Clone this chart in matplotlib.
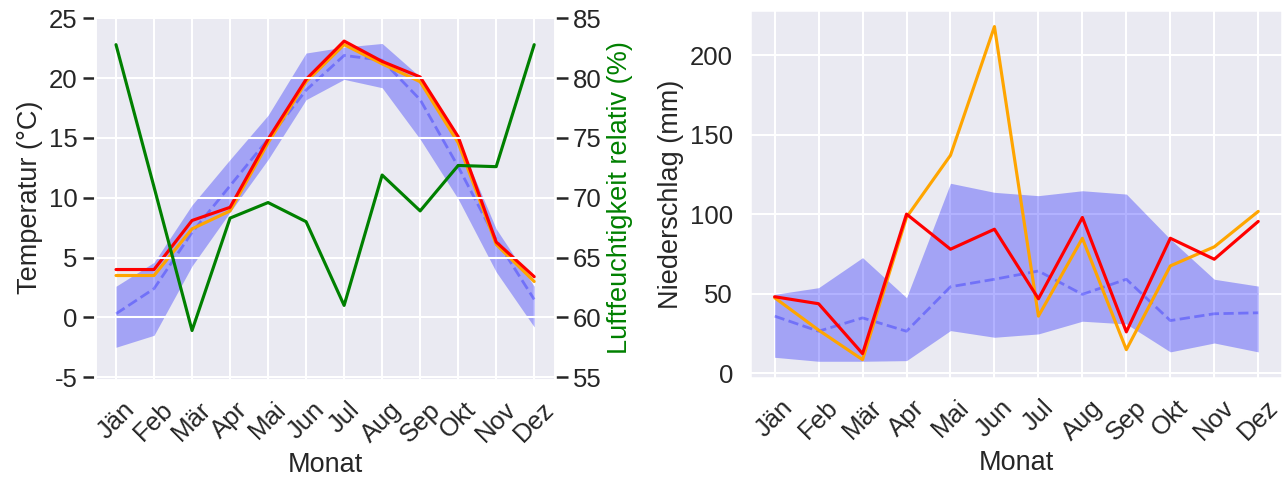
import matplotlib
matplotlib.use('Agg')
import matplotlib.pyplot as plt
import seaborn as sns

sns.set_theme(context='talk', style='darkgrid')
plt.rcParams['font.family'] = ['Liberation Sans', 'DejaVu Sans']
plt.rcParams['axes.unicode_minus'] = False
plt.rcParams['xtick.labelsize'] = 18.5
plt.rcParams['ytick.labelsize'] = 18.5
plt.rcParams['axes.labelsize'] = 19.5

monate = ['Jän', 'Feb', 'Mär', 'Apr', 'Mai', 'Jun', 'Jul', 'Aug', 'Sep', 'Okt', 'Nov', 'Dez']

# Temperatur (°C): Band min/max, Mittel, zwei Jahre
temp_min = [-2.5, -1.5, 4.3, 8.8, 13.2, 18.2, 19.9, 19.2, 14.9, 9.9, 3.8, -0.8]
temp_max = [2.6, 4.6, 9.4, 13.2, 16.9, 22.1, 22.6, 22.9, 20.1, 14.9, 7.4, 2.6]
temp_mittel = [0.3, 2.4, 7.1, 11.0, 14.9, 19.0, 21.9, 21.5, 18.2, 12.6, 6.5, 1.5]
temp_orange = [3.5, 3.5, 7.4, 8.9, 14.6, 19.7, 22.8, 21.2, 19.7, 14.6, 6.1, 3.0]
temp_rot = [4.0, 4.0, 8.1, 9.2, 14.9, 19.9, 23.1, 21.4, 20.1, 15.1, 6.3, 3.4]

# relative Luftfeuchtigkeit (%)
feuchte = [82.8, 70.9, 58.9, 68.3, 69.6, 68.0, 61.0, 71.9, 68.9, 72.7, 72.6, 82.8]

# Niederschlag (mm)
nied_min = [9.9, 7.4, 7.4, 7.8, 26.7, 22.5, 24.6, 32.6, 30.9, 13.3, 18.9, 13.3]
nied_max = [49.5, 53.7, 72.6, 47.4, 119.4, 113.7, 111.6, 114.7, 112.6, 84.2, 59.0, 54.7]
nied_mittel = [35.8, 26.3, 34.7, 26.3, 54.3, 59.0, 64.2, 49.5, 59.0, 33.0, 37.3, 37.9]
nied_orange = [47.4, 27.0, 8.4, 98.0, 137.0, 218.0, 35.8, 84.8, 14.7, 67.4, 79.4, 101.7]
nied_rot = [48.0, 43.6, 12.2, 100.0, 77.9, 90.5, 46.7, 97.9, 25.9, 84.8, 71.6, 95.4]

x = list(range(len(monate)))

fig = plt.figure(figsize=(12.85, 4.8), dpi=100)
ax1 = fig.add_axes([0.074, 0.208, 0.358, 0.760])
ax3 = fig.add_axes([0.584, 0.2125, 0.414, 0.767])

# linkes Diagramm: Temperatur + Luftfeuchtigkeit
ax1.fill_between(x, temp_min, temp_max, color='blue', alpha=0.3, linewidth=0)
ax1.plot(x, temp_mittel, color='blue', alpha=0.3, linestyle='--', linewidth=2)
ax1.plot(x, temp_orange, color='orange', linewidth=2.25)
ax1.plot(x, temp_rot, color='red', linewidth=2.25)
ax1.set_ylim(-5.25, 25.25)
ax1.set_yticks([-5, 0, 5, 10, 15, 20, 25])
ax1.set_ylabel('Temperatur (°C)')
ax1.set_xlabel('Monat')
ax1.set_xticks(x)
ax1.set_xticklabels(monate, rotation=45)
ax1.tick_params(axis='y', left=True, length=9, width=1.8, color='.15')

ax2 = ax1.twinx()
ax2.plot(x, feuchte, color='green', linewidth=2.25)
ax2.set_ylim(54.75, 85.25)
ax2.set_yticks([55, 60, 65, 70, 75, 80, 85])
ax2.set_ylabel('Luftfeuchtigkeit relativ (%)', color='green')
ax2.tick_params(axis='y', right=True, length=9, width=1.8, color='.15')

# rechtes Diagramm: Niederschlag
ax3.fill_between(x, nied_min, nied_max, color='blue', alpha=0.3, linewidth=0)
ax3.plot(x, nied_mittel, color='blue', alpha=0.3, linestyle='--', linewidth=2)
ax3.plot(x, nied_orange, color='orange', linewidth=2.25)
ax3.plot(x, nied_rot, color='red', linewidth=2.25)
ax3.set_ylabel('Niederschlag (mm)')
ax3.set_xlabel('Monat')
ax3.set_xticks(x)
ax3.set_xticklabels(monate, rotation=45)
ax3.set_yticks([0, 50, 100, 150, 200])

fig.savefig('out.png', dpi=100)
